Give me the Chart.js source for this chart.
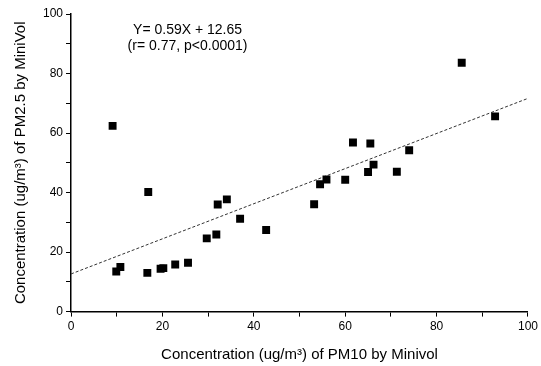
<!DOCTYPE html>
<html>
<head>
<meta charset="utf-8">
<script src="https://cdn.jsdelivr.net/npm/chart.js@4/dist/chart.umd.min.js"></script>
<style>
  html, body { margin: 0; padding: 0; background: #fff; overflow: hidden; }
  #wrap { width: 541px; height: 366px; }
</style>
</head>
<body>
<div id="wrap"><canvas id="pm-chart"></canvas></div>
<script>
// PM10 (x) vs PM2.5 (y), both by MiniVol
var pm10 = [9.1, 9.9, 10.8, 16.7, 16.9, 19.6, 20.2, 22.8, 25.6, 29.7, 31.8, 32.1, 34.1, 37.0,
            42.7, 53.2, 54.5, 55.9, 60.0, 61.7, 65.5, 65.0, 66.2, 71.3, 74.0, 85.5, 92.8];
var pm25 = [62.4, 13.5, 15.0, 13.0, 40.2, 14.4, 14.6, 15.8, 16.4, 24.6, 25.9, 36.0, 37.7, 31.2,
            27.4, 36.1, 42.8, 44.4, 44.3, 56.8, 56.5, 46.9, 49.4, 47.0, 54.2, 83.6, 65.6];

// regression line Y = 0.59X + 12.65, end points
var fitX = [0, 100];
var fitY = [12.65, 71.65];

var fitLabel = ['Y= 0.59X + 12.65', '(r= 0.77, p<0.0001)'];

var FONT = "'Liberation Sans', Arial, sans-serif";

var scatterPts = pm10.map(function (x, i) { return { x: x, y: pm25[i] }; });
var fitPts = fitX.map(function (x, i) { return { x: x, y: fitY[i] }; });

// equation text in the upper left of the plot
var equationText = {
    id: 'equationText',
    afterDraw: function (chart) {
        var c = chart.ctx;
        var xs = chart.scales.x, ys = chart.scales.y;
        var cx = xs.getPixelForValue(25.5);
        c.save();
        c.fillStyle = '#000';
        c.font = '14px ' + FONT;
        c.textAlign = 'center';
        c.textBaseline = 'middle';
        c.fillText(fitLabel[0], cx, ys.getPixelForValue(94.5));
        c.fillText(fitLabel[1], cx, ys.getPixelForValue(89.3));
        c.restore();
    }
};

var axisCommon = {
    type: 'linear',
    min: 0,
    max: 100,
    border: { display: true, color: '#000', width: 1.5 },
    grid: { drawOnChartArea: false, drawTicks: true, tickLength: 5, color: '#000', tickColor: '#000' },
    ticks: {
        stepSize: 10,
        color: '#000',
        font: { family: FONT, size: 12 },
        padding: 3,
        callback: function (v) { return v % 20 === 0 ? v : ''; }
    }
};

var config = {
    type: 'scatter',
    data: {
        datasets: [{
            label: 'PM2.5 vs PM10',
            data: scatterPts,
            pointStyle: 'rect',
            pointRadius: 5.6,
            pointHoverRadius: 5.6,
            backgroundColor: '#000',
            borderColor: '#000',
            borderWidth: 0
        }, {
            type: 'line',
            label: 'fit',
            data: fitPts,
            borderColor: '#333',
            borderWidth: 1,
            borderDash: [3, 2],
            pointRadius: 0,
            fill: false
        }]
    },
    options: {
        responsive: true,
        maintainAspectRatio: false,
        animation: false,
        layout: { padding: { top: 14, right: 6, bottom: 0, left: 10 } },
        plugins: {
            legend: { display: false },
            tooltip: { enabled: false }
        },
        scales: {
            x: Object.assign({}, axisCommon, {
                position: 'bottom',
                title: {
                    display: true,
                    text: 'Concentration (ug/m³) of PM10 by Minivol',
                    color: '#000',
                    font: { family: FONT, size: 15 },
                    padding: { top: 9, bottom: 2 }
                }
            }),
            y: Object.assign({}, axisCommon, {
                position: 'left',
                title: {
                    display: true,
                    text: 'Concentration (ug/m³) of PM2.5 by MiniVol',
                    color: '#000',
                    font: { family: FONT, size: 15 },
                    padding: { top: 2, bottom: 10 }
                }
            })
        }
    }
};

var pmChart = new Chart(document.getElementById('pm-chart'), Object.assign(config, { plugins: [equationText] }));
</script>
</body>
</html>
